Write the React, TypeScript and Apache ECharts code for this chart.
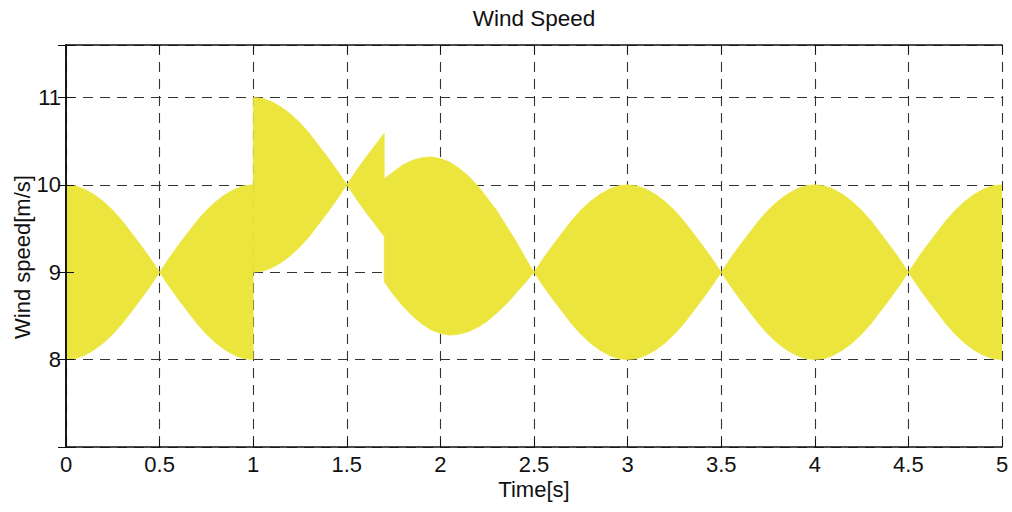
import React, { useEffect, useRef } from "react";
import * as echarts from "echarts";

// ---- data (time in s, wind speed in m/s) ----
const title = "Wind Speed";
const xName = "Time[s]";
const yName = "Wind speed[m/s]";

// segment 1: 0 s .. 1 s
const seg1Time = [0, 0.05, 0.1, 0.15, 0.2, 0.25, 0.3, 0.35, 0.4, 0.45, 0.5, 0.55, 0.6, 0.65, 0.7, 0.75, 0.8, 0.85, 0.9, 0.95, 1.0];
const seg1Upper = [10, 9.99, 9.95, 9.89, 9.81, 9.71, 9.59, 9.45, 9.31, 9.16, 9.0, 9.16, 9.31, 9.45, 9.59, 9.71, 9.81, 9.89, 9.95, 9.99, 10];
const seg1Lower = [8, 8.01, 8.05, 8.11, 8.19, 8.29, 8.41, 8.55, 8.69, 8.84, 9.0, 8.84, 8.69, 8.55, 8.41, 8.29, 8.19, 8.11, 8.05, 8.01, 8];

// segment 2: 1 s .. 1.7 s
const seg2Time = [1.0, 1.05, 1.1, 1.15, 1.2, 1.25, 1.3, 1.35, 1.4, 1.45, 1.5, 1.55, 1.6, 1.65, 1.7];
const seg2Upper = [11, 10.99, 10.95, 10.89, 10.81, 10.71, 10.59, 10.45, 10.31, 10.16, 10, 10.16, 10.31, 10.45, 10.59];
const seg2Lower = [9, 9.01, 9.05, 9.11, 9.19, 9.29, 9.41, 9.55, 9.69, 9.84, 10, 9.84, 9.69, 9.55, 9.41];

// segment 3: 1.7 s .. 2.5 s
const seg3Time = [1.7, 1.75, 1.8, 1.85, 1.9, 1.95, 2.0, 2.05, 2.1, 2.15, 2.2, 2.25, 2.3, 2.35, 2.4, 2.45, 2.5];
const seg3Upper = [10.07, 10.15, 10.23, 10.28, 10.31, 10.32, 10.3, 10.26, 10.19, 10.1, 9.99, 9.85, 9.71, 9.54, 9.37, 9.18, 9.0];
const seg3Lower = [8.89, 8.74, 8.61, 8.5, 8.41, 8.34, 8.3, 8.28, 8.29, 8.32, 8.37, 8.44, 8.53, 8.63, 8.75, 8.87, 9.0];

// segment 4: 2.5 s .. 5 s
const seg4Time = [
  2.5, 2.55, 2.6, 2.65, 2.7, 2.75, 2.8, 2.85, 2.9, 2.95,
  3.0, 3.05, 3.1, 3.15, 3.2, 3.25, 3.3, 3.35, 3.4, 3.45,
  3.5, 3.55, 3.6, 3.65, 3.7, 3.75, 3.8, 3.85, 3.9, 3.95,
  4.0, 4.05, 4.1, 4.15, 4.2, 4.25, 4.3, 4.35, 4.4, 4.45,
  4.5, 4.55, 4.6, 4.65, 4.7, 4.75, 4.8, 4.85, 4.9, 4.95, 5.0,
];
const seg4Upper = [
  9.0, 9.16, 9.31, 9.45, 9.59, 9.71, 9.81, 9.89, 9.95, 9.99,
  10, 9.99, 9.95, 9.89, 9.81, 9.71, 9.59, 9.45, 9.31, 9.16,
  9.0, 9.16, 9.31, 9.45, 9.59, 9.71, 9.81, 9.89, 9.95, 9.99,
  10, 9.99, 9.95, 9.89, 9.81, 9.71, 9.59, 9.45, 9.31, 9.16,
  9.0, 9.16, 9.31, 9.45, 9.59, 9.71, 9.81, 9.89, 9.95, 9.99, 10,
];
const seg4Lower = [
  9.0, 8.84, 8.69, 8.55, 8.41, 8.29, 8.19, 8.11, 8.05, 8.01,
  8, 8.01, 8.05, 8.11, 8.19, 8.29, 8.41, 8.55, 8.69, 8.84,
  9.0, 8.84, 8.69, 8.55, 8.41, 8.29, 8.19, 8.11, 8.05, 8.01,
  8, 8.01, 8.05, 8.11, 8.19, 8.29, 8.41, 8.55, 8.69, 8.84,
  9.0, 8.84, 8.69, 8.55, 8.41, 8.29, 8.19, 8.11, 8.05, 8.01, 8,
];

const xMin = 0;
const xMax = 5;
const xStep = 0.5;
const yMin = 7;
const yMax = 11.6;
const yStep = 1;
const yLabels = [8, 9, 10, 11];

const segments = [
  { time: seg1Time, upper: seg1Upper, lower: seg1Lower },
  { time: seg2Time, upper: seg2Upper, lower: seg2Lower },
  { time: seg3Time, upper: seg3Upper, lower: seg3Lower },
  { time: seg4Time, upper: seg4Upper, lower: seg4Lower },
];

const FONT = "'Liberation Sans', Arial, Helvetica, sans-serif";
const TEXT = "#111111";
const AXIS = "#111111";
const GRIDC = "#333333";
const FILL = "#EBE53D";

export default function App() {
  const ref = useRef<HTMLDivElement>(null);

  useEffect(() => {
    if (!ref.current) return;
    const chart = echarts.init(ref.current, undefined, { renderer: "svg" });

    const axisLineStyle = { show: true, lineStyle: { color: AXIS, width: 1.6 } };
    const tickIn = { show: true, inside: true, length: 8, lineStyle: { color: AXIS, width: 1 } };
    const dashed = { show: true, lineStyle: { color: GRIDC, width: 1.1, type: [10, 7] as any } };

    chart.setOption({
      animation: false,
      backgroundColor: "#ffffff",
      title: {
        text: title,
        left: 534,
        top: 7,
        padding: 0,
        textAlign: "center",
        textStyle: { fontFamily: FONT, fontSize: 22.5, fontWeight: "normal", color: TEXT },
      },
      grid: { left: 66, right: 10, top: 45, bottom: 65, containLabel: false, outerBoundsMode: "none" },
      xAxis: [
        {
          type: "value",
          position: "bottom",
          min: xMin,
          max: xMax,
          interval: xStep,
          z: 0,
          axisLine: { show: false },
          axisTick: { show: false },
          axisLabel: { show: false },
          splitLine: dashed,
        },
        {
          type: "value",
          position: "bottom",
          min: xMin,
          max: xMax,
          interval: xStep,
          z: 5,
          name: xName,
          nameLocation: "middle",
          nameGap: 31,
          nameMoveOverlap: false,
          nameTextStyle: { fontFamily: FONT, fontSize: 22, color: TEXT },
          axisLine: axisLineStyle,
          axisTick: tickIn,
          axisLabel: { show: true, margin: 6, fontFamily: FONT, fontSize: 22, color: TEXT },
          splitLine: { show: false },
        },
        {
          type: "value",
          position: "top",
          min: xMin,
          max: xMax,
          interval: xStep,
          z: 5,
          axisLine: axisLineStyle,
          axisTick: tickIn,
          axisLabel: { show: false },
          splitLine: { show: false },
        },
      ],
      yAxis: [
        {
          type: "value",
          position: "left",
          min: yMin,
          max: yMax,
          interval: yStep,
          z: 0,
          axisLine: { show: false },
          axisTick: { show: false },
          axisLabel: { show: false },
          splitLine: dashed,
        },
        {
          type: "value",
          position: "left",
          min: yMin,
          max: yMax,
          interval: yStep,
          z: 5,
          name: yName,
          nameLocation: "middle",
          nameGap: 33,
          nameMoveOverlap: false,
          nameTextStyle: { fontFamily: FONT, fontSize: 22, color: TEXT, padding: [0, 22, 0, 0] },
          axisLine: axisLineStyle,
          axisTick: tickIn,
          axisLabel: {
            show: true,
            margin: 5,
            fontFamily: FONT,
            fontSize: 22,
            color: TEXT,
            formatter: (v: number) => (yLabels.indexOf(Math.round(v * 1000) / 1000) >= 0 ? String(v) : ""),
          },
          splitLine: { show: false },
        },
        {
          type: "value",
          position: "right",
          min: yMin,
          max: yMax,
          interval: yStep,
          z: 5,
          axisLine: axisLineStyle,
          axisTick: tickIn,
          axisLabel: { show: false },
          splitLine: { show: false },
        },
      ],
      series: [
        {
          type: "custom",
          xAxisIndex: 0,
          yAxisIndex: 0,
          z: 2,
          clip: true,
          data: segments.map((s, i) => [s.time[0], s.upper[0], i]),
          renderItem: (params: any, api: any) => {
            const seg = segments[params.dataIndex];
            const pts: number[][] = [];
            for (let k = 0; k < seg.time.length; k++) pts.push(api.coord([seg.time[k], seg.upper[k]]));
            for (let k = seg.time.length - 1; k >= 0; k--) pts.push(api.coord([seg.time[k], seg.lower[k]]));
            return {
              type: "polygon",
              shape: { points: pts },
              style: { fill: FILL, stroke: FILL, lineWidth: 0.6 },
            };
          },
        },
      ],
    });

    return () => chart.dispose();
  }, []);

  return (
    <div
      ref={ref}
      style={{ position: "fixed", left: 0, top: 0, width: 1012, height: 512, background: "#fff" }}
    />
  );
}
